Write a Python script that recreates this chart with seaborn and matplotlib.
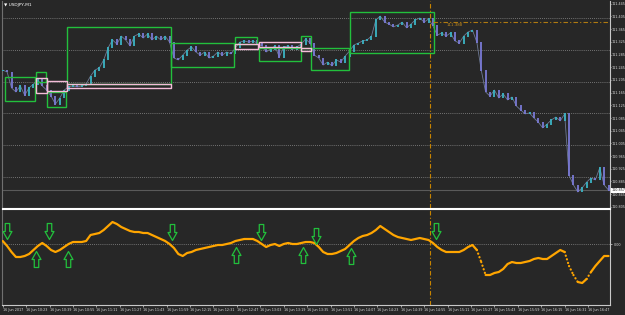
import matplotlib
matplotlib.use("Agg")
import matplotlib.pyplot as plt
import seaborn as sns
import numpy as np
import pandas as pd
from matplotlib.path import Path
from matplotlib.patches import Rectangle

# USDJPY M1, 16 Jun 2017 -- one close every 3 bars
step = 3
close = [111.236, 111.230, 111.180, 111.167, 111.186, 111.157, 111.180, 111.192, 111.205, 111.186,
         111.173, 111.154, 111.129, 111.148, 111.173, 111.183, 111.186, 111.183, 111.186, 111.192,
         111.217, 111.236, 111.243, 111.268, 111.306, 111.331, 111.318, 111.343, 111.331, 111.312,
         111.343, 111.350, 111.337, 111.350, 111.331, 111.343, 111.331, 111.343, 111.324, 111.274,
         111.268, 111.283, 111.299, 111.309, 111.293, 111.283, 111.293, 111.274, 111.280, 111.293,
         111.283, 111.293, 111.287, 111.306, 111.324, 111.328, 111.324, 111.328, 111.321, 111.312,
         111.293, 111.302, 111.312, 111.277, 111.309, 111.312, 111.302, 111.309, 111.318, 111.334,
         111.321, 111.283, 111.274, 111.252, 111.261, 111.249, 111.268, 111.261, 111.280, 111.296,
         111.315, 111.321, 111.328, 111.331, 111.343, 111.394, 111.406, 111.387, 111.381, 111.372,
         111.378, 111.387, 111.369, 111.381, 111.394, 111.400, 111.387, 111.397, 111.375, 111.346,
         111.353, 111.343, 111.353, 111.328, 111.321, 111.343, 111.356, 111.362, 111.324, 111.236,
         111.167, 111.154, 111.173, 111.148, 111.161, 111.142, 111.151, 111.123, 111.110, 111.098,
         111.101, 111.085, 111.072, 111.054, 111.066, 111.079, 111.088, 111.076, 111.098, 110.905,
         110.874, 110.852, 110.865, 110.883, 110.896, 110.890, 110.928, 110.874, 110.858]

osc = [0.03, -0.02, -0.08, -0.13, -0.13, -0.12, -0.10, -0.06, -0.02, 0.01,
       -0.02, -0.06, -0.08, -0.06, -0.03, 0.00, 0.02, 0.02, 0.02, 0.03,
       0.09, 0.10, 0.11, 0.14, 0.18, 0.22, 0.20, 0.17, 0.15, 0.13,
       0.12, 0.12, 0.11, 0.11, 0.09, 0.07, 0.05, 0.03, 0.00, -0.04,
       -0.10, -0.12, -0.09, -0.08, -0.06, -0.05, -0.04, -0.03, -0.02, -0.01,
       -0.01, 0.00, 0.01, 0.03, 0.04, 0.05, 0.05, 0.05, 0.03, 0.00,
       -0.03, -0.01, 0.00, -0.02, 0.00, 0.01, 0.00, 0.00, 0.01, 0.02,
       0.02, 0.01, -0.03, -0.08, -0.10, -0.10, -0.09, -0.07, -0.05, -0.01,
       0.03, 0.06, 0.08, 0.09, 0.11, 0.14, 0.18, 0.15, 0.12, 0.09,
       0.07, 0.06, 0.05, 0.04, 0.05, 0.06, 0.05, 0.04, 0.01, -0.03,
       -0.06, -0.08, -0.08, -0.08, -0.08, -0.06, -0.03, -0.01, -0.06, -0.18,
       -0.31, -0.31, -0.29, -0.28, -0.25, -0.20, -0.18, -0.19, -0.19, -0.18,
       -0.17, -0.15, -0.14, -0.15, -0.15, -0.12, -0.09, -0.06, -0.08, -0.22,
       -0.31, -0.38, -0.39, -0.35, -0.28, -0.22, -0.17, -0.12, -0.12]

# signal arrows (bar index, oscillator level)
sell_bars = [3, 31.5, 116, 176.5, 214, 296]
sell_lvls = [0.13, 0.13, 0.12, 0.12, 0.08, 0.13]
buy_bars = [23, 44.5, 159.5, 205, 238]
buy_lvls = [-0.15, -0.15, -0.105, -0.11, -0.115]

# range boxes
box_start = [1.6, 22.7, 30, 44, 115, 159, 175, 204, 211, 237,
             22.7, 30, 44, 159, 175, 204]
box_end = [22, 29.5, 43, 115, 158, 174, 204, 211, 236.5, 295,
           30, 44, 115, 174.5, 204, 211]
box_top = [111.214, 111.230, 111.167, 111.372, 111.321, 111.340, 111.306, 111.343, 111.306, 111.419,
           111.211, 111.202, 111.192, 111.318, 111.324, 111.306]
box_bot = [111.139, 111.198, 111.120, 111.192, 111.246, 111.318, 111.265, 111.306, 111.236, 111.290,
           111.164, 111.170, 111.180, 111.302, 111.309, 111.296]
box_kind = ['range'] * 10 + ['gap'] * 6

price_ticks = [111.445, 111.405, 111.365, 111.325, 111.285, 111.245, 111.205, 111.165, 111.125,
               111.085, 111.045, 111.005, 110.965, 110.925, 110.885, 110.845, 110.805]
grid_levels = [111.4, 111.3, 111.2, 111.1, 111.0, 110.9]
time_ticks = list(range(0, 401, 16))
time_labels = ['16 Jun 2017', '16 Jun 10:23', '16 Jun 10:39', '16 Jun 10:55', '16 Jun 11:11',
               '16 Jun 11:27', '16 Jun 11:43', '16 Jun 11:59', '16 Jun 12:15', '16 Jun 12:31',
               '16 Jun 12:47', '16 Jun 13:03', '16 Jun 13:19', '16 Jun 13:35', '16 Jun 13:51',
               '16 Jun 14:07', '16 Jun 14:23', '16 Jun 14:39', '16 Jun 14:55', '16 Jun 15:11',
               '16 Jun 15:27', '16 Jun 15:43', '16 Jun 15:59', '16 Jun 16:15', '16 Jun 16:31',
               '16 Jun 16:47']
cursor_bar = 292.3
level_price = 111.388
last_price = 110.857

bg = '#272727'
bull = '#3cb4c4'
bear = '#7a7ad6'
orange = '#ffa500'
green = '#22c03c'
pink = '#f4bcd8'
fs = 2.45

sns.set_theme(style='dark', rc={'axes.facecolor': bg, 'figure.facecolor': bg,
                                'axes.grid': False, 'xtick.bottom': True, 'ytick.right': True})
plt.rcParams['font.family'] = ['DejaVu Sans']

fig = plt.figure(figsize=(6.25, 3.15), dpi=100)
ax1 = fig.add_axes([2 / 625, 1 - 208 / 315, 608 / 625, 207 / 315])
ax2 = fig.add_axes([2 / 625, 1 - 305 / 315, 608 / 625, 96 / 315], sharex=ax1)

# ---- price panel
for g in grid_levels:
    ax1.axhline(g, color='#8c8c8c', lw=0.6, ls=(0, (1, 1.5)), zorder=1)
ax1.axhline(last_price, color='#5a5a5a', lw=0.8, zorder=1)

cl = np.array(close)
bars = np.arange(len(cl)) * step
op = np.concatenate([[cl[0]], cl[:-1]])
cols = [bull if c >= o else bear for o, c in zip(op, cl)]
ax1.plot(bars, cl, color='#6e7a96', lw=0.6, zorder=2)
lo = np.minimum(op, cl) - 0.0015
hi = np.maximum(op, cl) + 0.0015
ax1.vlines(bars, lo, hi, colors=cols, lw=1.3, zorder=3)

for s, e, t, b, k in zip(box_start, box_end, box_top, box_bot, box_kind):
    ax1.add_patch(Rectangle((s, b), e - s, t - b, fill=False,
                            ec=green if k == 'range' else pink, lw=1.0, zorder=4))

ax1.axvline(cursor_bar, color='#c88400', lw=0.8, ls=(0, (4, 2, 1, 2)), zorder=5)
ax1.hlines(level_price, cursor_bar + 2, 415, color='#b07a10', lw=0.8, ls=(0, (4, 2, 1, 2)), zorder=5)
ax1.text(cursor_bar + 11, level_price - 0.003, f'{level_price:.3f}', color='#c08a20',
         fontsize=fs + 0.4, va='top', ha='left')
ax1.text(0.004, 0.988, '\u25bc USDJPY,M1', transform=ax1.transAxes, color='white',
         fontsize=fs + 0.6, va='top', ha='left')

ax1.set_xlim(-0.5, 415)
ax1.set_ylim(110.8015, 111.4536)
ax1.yaxis.tick_right()
ax1.set_yticks(price_ticks)
ax1.set_yticklabels([f'{p:.3f}' for p in price_ticks])
ax1.tick_params(axis='y', labelsize=fs, colors='#d8d8d8', length=1, pad=0.5, width=0.5)
ax1.tick_params(axis='x', labelbottom=False, length=0)
ax1.text(1.002, (last_price - 110.8015) / (111.4536 - 110.8015), f'{last_price:.3f}',
         transform=ax1.transAxes, fontsize=fs, color='#202020', va='center', ha='left',
         bbox=dict(boxstyle='square,pad=0.1', fc='white', ec='none'))

# ---- oscillator panel
ax2.axhline(0, color='#8c8c8c', lw=0.6, ls=(0, (1, 1.5)), zorder=1)
ov = np.array(osc)
ox = np.arange(len(ov)) * step
steep = np.abs(np.diff(ov)) > 0.065
df_osc = pd.DataFrame({'bar': ox, 'value': ov, 'run': np.concatenate([[0], np.cumsum(steep)])})
sns.lineplot(data=df_osc, x='bar', y='value', units='run', estimator=None, color=orange,
             lw=1.6, ax=ax2, legend=False, zorder=3)
for j in np.where(steep)[0]:
    ax2.plot(ox[j:j + 2], ov[j:j + 2], color=orange, lw=1.6, ls=(0, (0.1, 1.6)),
             dash_capstyle='round', zorder=3)
ax2.axvline(cursor_bar, color='#c88400', lw=0.8, ls=(0, (4, 2, 1, 2)), zorder=2)

up_v = [(-0.14, -0.5), (0.14, -0.5), (0.14, 0.0), (0.28, 0.0), (0.0, 0.5), (-0.28, 0.0),
        (-0.14, 0.0), (-0.14, -0.5)]
codes = [Path.MOVETO] + [Path.LINETO] * 6 + [Path.CLOSEPOLY]
up_arrow = Path(up_v, codes)
down_arrow = Path([(x, -y) for x, y in up_v], codes)
ax2.plot(buy_bars, buy_lvls, ls='none', marker=up_arrow, ms=11.5, mfc='none', mec=green,
         mew=0.9, zorder=4)
ax2.plot(sell_bars, sell_lvls, ls='none', marker=down_arrow, ms=11.5, mfc='none', mec=green,
         mew=0.9, zorder=4)

ax2.set_ylim(-0.61, 0.35)
ax2.yaxis.tick_right()
ax2.set_yticks([0])
ax2.set_yticklabels(['0.00'])
ax2.set_xticks(time_ticks)
ax2.set_xticklabels(time_labels)
for lbl in ax2.get_xticklabels():
    lbl.set_ha('left')
ax2.tick_params(axis='both', labelsize=fs, colors='#d8d8d8', length=1.5, pad=1, width=0.5)
ax2.set_xlabel('')
ax2.set_ylabel('')
ax1.set_ylabel('')

for ax in (ax1, ax2):
    for sp in ax.spines.values():
        sp.set_visible(True)
        sp.set_linewidth(0.8)
    ax.spines['left'].set_color('#707070')
    ax.spines['right'].set_color('#c8c8c8')
ax1.spines['top'].set_visible(False)
ax1.spines['bottom'].set_color('white')
ax2.spines['top'].set_color('white')
ax2.spines['bottom'].set_color('#c8c8c8')

fig.savefig('out.png', dpi=100, facecolor=bg)
